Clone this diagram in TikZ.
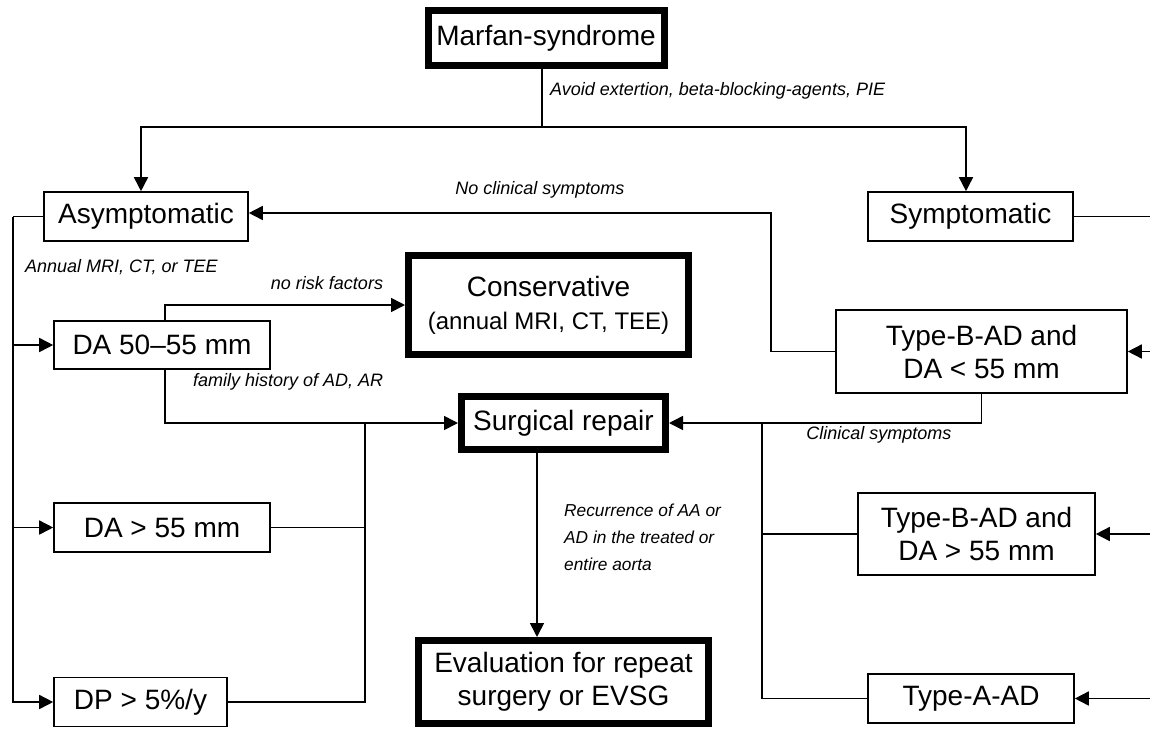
\documentclass[tikz,border=0pt]{standalone}
\usepackage{fontspec}
\setmainfont{Liberation Sans}
\usetikzlibrary{arrows.meta}
\begin{document}
\begin{tikzpicture}[x=1pt,y=-1pt,
  box/.style={draw, line width=1.6pt, inner sep=0pt, align=center, font=\fontsize{28}{33}\selectfont},
  tbox/.style={draw, line width=7pt, inner sep=0pt, align=center, font=\fontsize{28}{33}\selectfont},
  conn/.style={line width=1.6pt},
  arr/.style={conn, -{Triangle[length=14pt,width=14pt]}},
  lab/.style={font=\fontsize{18}{21}\selectfont\itshape, inner sep=0pt}]
\useasboundingbox[fill=white] (0,0) rectangle (1150,731);

% boxes
\node[tbox, minimum width=236pt, minimum height=55pt] (M) at (546,38) {Marfan-syndrome};
\node[box, minimum width=204pt, minimum height=49pt] (A) at (146,216.5) {Asymptomatic};
\node[box, minimum width=205pt, minimum height=49pt] (S) at (970.5,216.5) {Symptomatic};
\node[tbox, minimum width=280pt, minimum height=99pt] (C) at (548.5,305) {Conservative\\{\fontsize{24}{28}\selectfont (annual MRI, CT, TEE)}};
\node[box, minimum width=216pt, minimum height=48pt] (D1) at (162,345) {DA 50\textendash 55 mm};
\node[box, minimum width=291pt, minimum height=83pt] (T1) at (981.5,351.5) {Type-B-AD and\\DA < 55 mm};
\node[tbox, minimum width=204pt, minimum height=53pt] (SR) at (563.5,423) {Surgical repair};
\node[box, minimum width=216pt, minimum height=49pt] (D2) at (162,527.5) {DA > 55 mm};
\node[box, minimum width=237pt, minimum height=82pt] (T2) at (976.5,534) {Type-B-AD and\\DA > 55 mm};
\node[tbox, minimum width=290pt, minimum height=83pt] (E) at (563.5,682) {Evaluation for repeat\\surgery or EVSG};
\node[box, minimum width=173pt, minimum height=49pt] (DP) at (140.5,702) {DP > 5\%/y};
\node[box, minimum width=206pt, minimum height=49pt] (TA) at (971,698.5) {Type-A-AD};

% labels
\node[lab, anchor=west] (l1) at (550,91) {Avoid extertion, beta-blocking-agents, PIE};
\node[lab] (l2) at (540,190) {No clinical symptoms};
\node[lab, anchor=west] (l3) at (25,267) {Annual MRI, CT, or TEE};
\node[lab] (l4) at (327,283) {no risk factors};
\node[lab, anchor=west] (l5) at (193,382) {family history of AD, AR};
\node[lab] (l6) at (879,435) {Clinical symptoms};
\node[lab, anchor=west, align=left, font=\fontsize{17.3}{27}\selectfont\itshape] (l7) at (564,537) {Recurrence of AA or\\AD in the treated or\\entire aorta};

% connectors
\coordinate (jt) at (542,127);
\draw[conn] (M.south -| jt) -- (jt);
\draw[arr] (jt) -| ([xshift=-5pt]A.north);
\draw[arr] (jt) -| ([xshift=-4.5pt]S.north);
\coordinate (re1) at (1150,216.5);
\draw[conn] (S.east) -- (re1);
\coordinate (k1) at (771,351.5);
\draw[arr] (T1.west) -- (k1) |- ([yshift=3.5pt]A.east);
\coordinate (re2) at (1150,351.5);
\draw[arr] (re2) -- (T1.east);
\draw[arr] (T1.south) |- (SR.east);
\coordinate (b2) at (762,423);
\draw[conn] (b2) |- (TA.west);
\draw[conn] (b2 |- T2.west) -- (T2.west);
\coordinate (re3) at (1150,534);
\draw[arr] (re3) -- (T2.east);
\coordinate (re4) at (1150,698.5);
\draw[arr] (re4) -- (TA.east);

\coordinate (lb) at (13,216.5);
\draw[conn] (A.west) -- (lb);
\draw[arr] (lb) |- (DP.west);
\draw[arr] (lb |- D1.west) -- (D1.west);
\draw[arr] (lb |- D2.west) -- (D2.west);
\draw[arr] ([xshift=3pt]D1.north) |- (C.west);
\draw[arr] ([xshift=3pt]D1.south) |- (SR.west);
\coordinate (mb) at (365,423);
\draw[conn] (D2.east) -| (mb);
\draw[conn] (DP.east) -| (mb);
\draw[arr] ([xshift=-26.5pt]SR.south) -- ([xshift=-26.5pt]E.north);
\end{tikzpicture}
\end{document}
